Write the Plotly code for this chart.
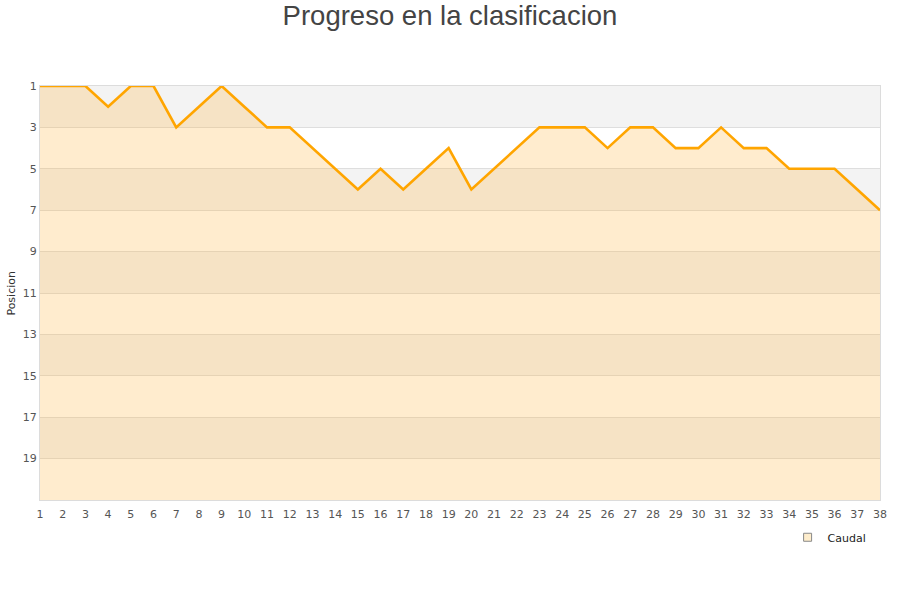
import plotly.graph_objects as go

jornadas = list(range(1, 39))
posicion = [1, 1, 1, 2, 1, 1, 3, 2, 1, 2, 3, 3, 4, 5, 6, 5, 6, 5, 4, 6,
            5, 4, 3, 3, 3, 4, 3, 3, 4, 4, 3, 4, 4, 5, 5, 5, 6, 7]
y_ticks = list(range(1, 21, 2))
fondo = 21

fig = go.Figure()

# alternating bands
for lo in range(1, 21, 4):
    fig.add_shape(type="rect", xref="paper", x0=0, x1=1, yref="y", y0=lo, y1=lo + 2,
                  fillcolor="#f3f3f3", line_width=0, layer="below")

fig.add_trace(go.Scatter(x=jornadas, y=[fondo] * len(jornadas), mode="lines",
                         line=dict(width=0), showlegend=False, hoverinfo="skip"))
fig.add_trace(go.Scatter(x=jornadas, y=posicion, mode="lines", fill="tonexty",
                         fillcolor="rgba(255,180,60,0.25)",
                         line=dict(color="#FFA500", width=2.6), showlegend=False,
                         name="Caudal"))
fig.add_trace(go.Scatter(x=[None], y=[None], mode="markers", name="Caudal",
                         marker=dict(symbol="square", size=8, color="#feedcc",
                                     line=dict(color="#888", width=1))))

fig.add_annotation(text="Posicion", xref="paper", yref="paper", x=-0.035, y=0.5,
                   textangle=-90, showarrow=False, xanchor="center", yanchor="middle",
                   font=dict(size=11, color="#333"))

fig.update_layout(
    width=900, height=600,
    margin=dict(l=40, r=20, t=86, b=100, autoexpand=False),
    paper_bgcolor="white", plot_bgcolor="white",
    title=dict(text="Progreso en la clasificacion", x=0.5, xanchor="center",
               y=0.975, yanchor="middle",
               font=dict(family="Liberation Sans, Arial", size=27.5, color="#444")),
    font=dict(family="DejaVu Sans", size=11, color="#555"),
    xaxis=dict(range=[1, 38], tickmode="array", tickvals=jornadas, automargin=False,
               showgrid=False, zeroline=False, showline=True, mirror=True,
               linecolor="#dcdcdc", linewidth=1, ticks="", tickfont=dict(size=11),
               ticklabelstandoff=4),
    yaxis=dict(range=[fondo, 1], tickmode="array", tickvals=y_ticks, automargin=False,
               showgrid=True, gridcolor="#dedede", gridwidth=1, zeroline=False,
               showline=True, mirror=True, linecolor="#dcdcdc", linewidth=1,
               ticks="", tickfont=dict(size=11)),
    legend=dict(x=0.99, xanchor="right", y=-0.09, yanchor="middle",
                font=dict(size=11, color="#222"), bgcolor="rgba(0,0,0,0)"),
)

fig.write_html("out.html", config={"displayModeBar": False},
               post_script="document.body.style.margin='0';document.body.style.padding='0';")
